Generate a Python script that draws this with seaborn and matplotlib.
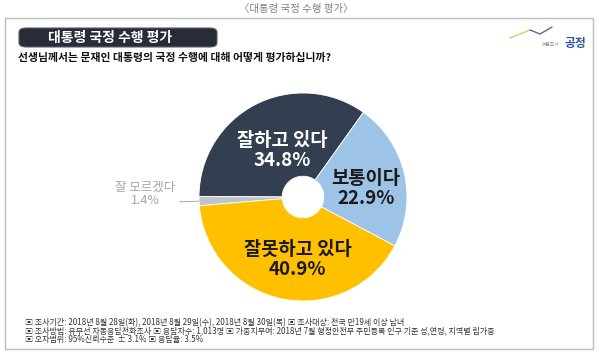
import numpy as np
import matplotlib
matplotlib.use("Agg")
import matplotlib.pyplot as plt
import seaborn as sns
from matplotlib.patches import FancyBboxPatch, Rectangle

# data
categories = ["잘하고 있다", "잘 모르겠다", "잘못하고 있다", "보통이다"]
shares = [34.8, 1.4, 40.9, 22.9]
colors = ["#333F50", "#BFC4CA", "#FFC000", "#9DC3E6"]
text_colors = ["white", "#A6A6A6", "#1A1A1A", "#1A1A1A"]

title_top = "〈대통령 국정 수행 평가〉"
title_box = "대통령 국정 수행 평가"
question = "선생님께서는 문재인 대통령의 국정 수행에 대해 어떻게 평가하십니까?"
notes = [
    "▣ 조사기간: 2018년 8월 28일(화), 2018년 8월 29일(수), 2018년 8월 30일(목) ▣ 조사대상: 전국 만19세 이상 남녀",
    "▣ 조사방법: 유무선 자동응답전화조사 ▣ 응답자수: 1,013명 ▣ 가중치부여: 2018년 7월 행정안전부 주민등록 인구 기준 성,연령, 지역별 림가중",
    "▣ 오차범위: 95%신뢰수준  ± 3.1% ▣ 응답율: 3.5%",
]

sns.set_theme(style="white")
plt.rcParams['font.family'] = ['Noto Sans CJK KR', 'DejaVu Sans']

W, H = 599, 355
fig = plt.figure(figsize=(W / 100, H / 100), dpi=100)


def fx(x):
    return np.asarray(x) / W


def fy(y):
    return 1 - np.asarray(y) / H


# frame + header
fig.patches.append(Rectangle((fx(5), fy(349)), fx(588), 331 / H, transform=fig.transFigure,
                             fill=False, edgecolor="#BDBDBD", linewidth=1))
fig.text(fx(296), fy(9), title_top, ha="center", va="center", fontsize=7.5, color="#7F7F7F")
fig.patches.append(FancyBboxPatch((fx(19), fy(47)), fx(198), 19 / H, transform=fig.transFigure,
                                  boxstyle="round,pad=0,rounding_size=0.012",
                                  facecolor="#272C36", edgecolor="#5A6070", linewidth=0.8))
fig.text(fx(110), fy(38), title_box, ha="center", va="center", fontsize=10,
         color="white", fontweight="bold")
fig.text(fx(18), fy(58), question, ha="left", va="center", fontsize=7.8,
         color="#111111", fontweight="bold")

# logo
logo_x = [510, 530, 540, 552]
logo_y = [38, 30, 34, 27]
fig.add_artist(plt.Line2D(fx(logo_x[:2]), fy(logo_y[:2]), transform=fig.transFigure,
                          color="#C9D66A", linewidth=1))
fig.add_artist(plt.Line2D(fx(logo_x[1:]), fy(logo_y[1:]), transform=fig.transFigure,
                          color="#4F6E9A", linewidth=1))
fig.text(fx(551), fy(44), "여론조사", ha="center", va="center", fontsize=3.4, color="#8C8C8C")
fig.text(fx(575), fy(43), "공정", ha="center", va="center", fontsize=8.5,
         color="#2E5597", fontweight="bold")

# footnotes
for i, line in enumerate(notes):
    fig.text(fx(25), fy(323 + 8.3 * i), line, ha="left", va="center", fontsize=5.8,
             color="#333333")

# donut
cx, cy, r = 303, 197, 104
ax = fig.add_axes([fx(cx - r), (H - cy - r) / H, 2 * r / W, 2 * r / H])
wedges, _ = ax.pie(shares, colors=colors, startangle=54.5, counterclock=True,
                   wedgeprops=dict(width=0.8, edgecolor="white", linewidth=0.6))
ax.set_xlim(-1, 1)
ax.set_ylim(-1, 1)
ax.axis("off")

for w, name, val, tc in zip(wedges, categories, shares, text_colors):
    mid = np.deg2rad((w.theta1 + w.theta2) / 2)
    if val < 5:
        px, py = np.cos(mid), np.sin(mid)
        ax.annotate(f"{name}\n{val}%", xy=(px, py), xytext=(-1.52, 0.03),
                    ha="center", va="center", fontsize=9, color=tc, linespacing=1.1,
                    annotation_clip=False,
                    arrowprops=dict(arrowstyle="-", color="#A6A6A6", lw=0.7,
                                    relpos=(1, 0.2), shrinkA=1, shrinkB=0))
    else:
        ax.text(0.56 * np.cos(mid) + 0.06, 0.56 * np.sin(mid) - 0.05, f"{name}\n{val}%",
                ha="center", va="center", fontsize=13.5, fontweight="bold",
                color=tc, linespacing=1.05)

fig.savefig("out.png", dpi=100)
